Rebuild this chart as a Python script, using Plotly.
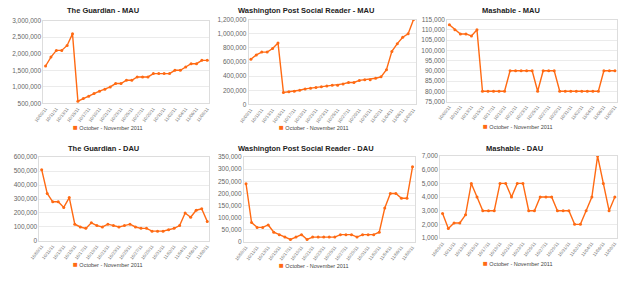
import plotly.graph_objects as go

dates = ["10/%02d/11" % d for d in range(9, 32)] + ["11/%02d/11" % d for d in range(1, 9)]

guardian_mau = [1630000, 1900000, 2100000, 2100000, 2250000, 2600000, 570000, 650000, 720000, 800000,
                870000, 930000, 1000000, 1100000, 1100000, 1200000, 1200000, 1300000, 1300000, 1300000,
                1400000, 1400000, 1400000, 1400000, 1500000, 1500000, 1600000, 1700000, 1700000, 1800000, 1800000]
wapo_mau = [640000, 700000, 740000, 740000, 790000, 870000, 170000, 180000, 185000, 200000,
            220000, 230000, 240000, 250000, 260000, 270000, 270000, 290000, 310000, 310000,
            340000, 350000, 350000, 370000, 390000, 490000, 750000, 860000, 950000, 1000000, 1200000]
mashable_mau = [112500, 110000, 108000, 108000, 107000, 110000, 80000, 80000, 80000, 80000,
                80000, 90000, 90000, 90000, 90000, 90000, 80000, 90000, 90000, 90000,
                80000, 80000, 80000, 80000, 80000, 80000, 80000, 80000, 90000, 90000, 90000]
guardian_dau = [510000, 340000, 280000, 280000, 240000, 310000, 120000, 100000, 90000, 130000,
                110000, 100000, 120000, 110000, 100000, 110000, 120000, 100000, 90000, 90000,
                70000, 70000, 70000, 80000, 90000, 110000, 200000, 170000, 220000, 230000, 140000]
wapo_dau = [240000, 80000, 60000, 60000, 70000, 40000, 30000, 20000, 10000, 20000,
            30000, 10000, 20000, 20000, 20000, 20000, 20000, 30000, 30000, 30000,
            20000, 30000, 30000, 30000, 40000, 140000, 200000, 200000, 180000, 180000, 310000]
mashable_dau = [2800, 1700, 2100, 2100, 2700, 5000, 4000, 3000, 3000, 3000,
                5000, 5000, 4000, 5000, 5000, 3000, 3000, 4000, 4000, 4000,
                3000, 3000, 3000, 2000, 2000, 3000, 4000, 7000, 5000, 3000, 4000]

titles = ["The Guardian - MAU", "Washington Post Social Reader - MAU", "Mashable - MAU",
          "The Guardian - DAU", "Washington Post Social Reader - DAU", "Mashable - DAU"]
series = [guardian_mau, wapo_mau, mashable_mau, guardian_dau, wapo_dau, mashable_dau]
legend_label = "October - November 2011"

W, H = 625, 281
# plot areas in pixels: (x0, x1, ytop, ybottom)
boxes = [(34, 203, 17, 102), (243, 413, 16, 103), (445, 618, 16, 100),
         (30, 203, 157, 243), (238, 412, 157, 244), (438, 618, 156, 240)]
yranges = [(500000, 3000000, 500000), (0, 1200000, 200000), (75000, 115000, 5000),
           (0, 600000, 100000), (0, 350000, 50000), (1000, 7000, 1000)]
title_pos = [(95, 7), (301, 7), (510, 7), (95, 148), (301, 148), (514, 148)]
legend_pos = [(100, 127), (309, 127), (517, 126), (100, 267), (309, 268), (517, 266)]

color = "#ff6a13"
fig = go.Figure()
annotations = []
for i in range(6):
    n = "" if i == 0 else str(i + 1)
    fig.add_trace(go.Scatter(x=list(range(len(dates))), y=series[i], mode="lines+markers",
                             line=dict(color=color, width=1.4), marker=dict(color=color, size=3),
                             xaxis="x" + n, yaxis="y" + n, showlegend=False))
    x0, x1, yt, yb = boxes[i]
    lo, hi, dt = yranges[i]
    fig.update_layout({
        "xaxis" + n: dict(domain=[x0 / W, x1 / W], anchor="y" + n, range=[-0.4, len(dates) - 0.6],
                          tickvals=list(range(0, len(dates), 2)), ticktext=dates[::2],
                          tickangle=-52, tickfont=dict(size=4.5, color="#777", family="Liberation Sans"),
                          showgrid=False, showline=True, linecolor="#ddd", mirror=True, zeroline=False,
                          ticks=""),
        "yaxis" + n: dict(domain=[1 - yb / H, 1 - yt / H], anchor="x" + n, range=[lo, hi], dtick=dt,
                          tick0=lo, tickformat=",d",
                          tickfont=dict(size=6.5, color="#666", family="Liberation Sans"),
                          showgrid=True, gridcolor="#ebebeb", gridwidth=1.3, showline=True,
                          linecolor="#ddd", mirror=True, zeroline=False, ticks=""),
    })
    tx, ty = title_pos[i]
    annotations.append(dict(x=tx / W, y=1 - ty / H, xref="paper", yref="paper", showarrow=False,
                            text="<b>%s</b>" % titles[i], xanchor="center", yanchor="middle",
                            font=dict(size=7.5, color="#222", family="Liberation Sans")))
    lx, ly = legend_pos[i]
    annotations.append(dict(x=lx / W, y=1 - ly / H, xref="paper", yref="paper", showarrow=False,
                            text="<span style='color:%s;font-size:8px'>■</span> %s" % (color, legend_label),
                            xanchor="center", yanchor="middle",
                            font=dict(size=5.5, color="#444", family="Liberation Sans")))

fig.update_layout(width=W, height=H, margin=dict(l=0, r=0, t=0, b=0),
                  paper_bgcolor="white", plot_bgcolor="white", annotations=annotations)
fig.write_html("out.html")
